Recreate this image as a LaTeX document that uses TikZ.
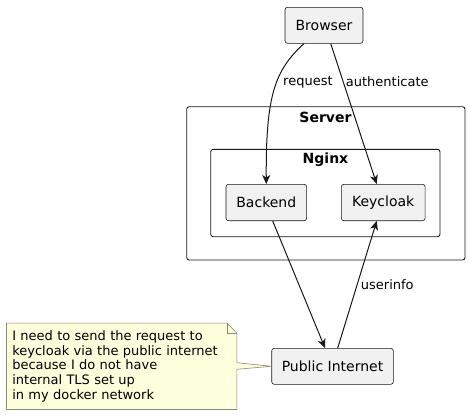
\documentclass[tikz,border=0pt]{standalone}
\usepackage{fontspec}
\setmainfont{DejaVu Sans}
\usetikzlibrary{arrows.meta,calc}
\definecolor{boxfill}{HTML}{F1F1F1}
\definecolor{linec}{HTML}{181818}
\definecolor{notefill}{HTML}{FEFFDD}
\definecolor{noteline}{HTML}{8A8A70}
\tikzset{
  comp/.style={draw=linec, fill=boxfill, line width=0.6pt, rounded corners=2.5pt,
    font=\fontsize{14}{16}\selectfont, inner sep=0pt, minimum height=36.4pt},
  frame/.style={draw=linec, line width=0.9pt, rounded corners=2.5pt},
  ftitle/.style={font=\fontsize{14}{16}\selectfont\bfseries, inner sep=0pt},
  conn/.style={draw=linec, line width=1pt, -{Stealth[length=9pt,width=8pt,inset=2.5pt]}},
  lbl/.style={font=\fontsize{13}{15}\selectfont, inner sep=0pt, anchor=west},
}
\begin{document}
\begin{tikzpicture}[x=1pt,y=-1pt]
\useasboundingbox (0,0) rectangle (469,415);
% frames
\draw[frame] (186.7,106.7) rectangle (465,260);
\node[ftitle] (servert) at (325.5,117.5) {Server};
\draw[frame] (210.7,149.3) rectangle (440,236.7);
\node[ftitle] (nginxt) at (325.5,159.5) {Nginx};
% components
\node[comp, minimum width=78pt, minimum height=36pt] (browser) at (324,25.3) {Browser};
\node[comp, minimum width=80.7pt] (backend) at (266.3,202.5) {Backend};
\node[comp, minimum width=83.7pt] (keycloak) at (383.2,202.5) {Keycloak};
\node[comp, minimum width=121.6pt, minimum height=36pt] (public) at (332.5,366.3) {Public Internet};
% note
\node[inner xsep=5.6pt, inner ysep=0pt, minimum width=230pt, minimum height=86pt,
  text width=218.8pt, align=left, font=\fontsize{13}{14.8}\selectfont] (note) at (121.7,366.3)
  {I need to send the request to\\keycloak via the public internet\\because I do not have\\internal TLS set up\\in my docker network};
\draw[draw=noteline, fill=notefill, line width=0.6pt]
  (note.north west) -- ($(note.north east)+(-10,0)$) -- ($(note.north east)+(0,10)$)
  -- ($(note.east)+(0,-3.6)$) -- (public.west) -- ($(note.east)+(0,3)$)
  -- (note.south east) -- (note.south west) -- cycle;
\draw[draw=noteline, line width=0.6pt]
  ($(note.north east)+(-10,0)$) -- ($(note.north east)+(-10,10)$) -- ($(note.north east)+(0,10)$);
\node[inner xsep=5.6pt, inner ysep=0pt, minimum width=230pt, minimum height=86pt,
  text width=218.8pt, align=left, font=\fontsize{13}{14.8}\selectfont] at (note.center)
  {I need to send the request to\\keycloak via the public internet\\because I do not have\\internal TLS set up\\in my docker network};
% connectors
\coordinate (bq) at ($(browser.south)+(-20,0)$);
\coordinate (ba) at ($(browser.south)+(6.7,0)$);
\draw[conn] (bq) .. controls (275,70) and (265.7,95) .. (backend.north);
\node[lbl] (lreq) at (283,82) {request};
\coordinate (kt) at ($(keycloak.north)+(-6.5,0)$);
\draw[conn] (ba) -- (kt);
\node[lbl] (lauth) at (345.7,82) {authenticate};
\coordinate (bs) at ($(backend.south)+(6.4,0)$);
\coordinate (pt) at ($(public.north)+(-7.5,0)$);
\draw[conn] (bs) -- (pt);
\coordinate (pu) at ($(public.north)+(5.2,0)$);
\coordinate (kb) at ($(keycloak.south)+(-6.5,0)$);
\draw[conn] (pu) -- (kb);
\node[lbl] (luser) at (360.7,285) {userinfo};
\end{tikzpicture}
\end{document}
